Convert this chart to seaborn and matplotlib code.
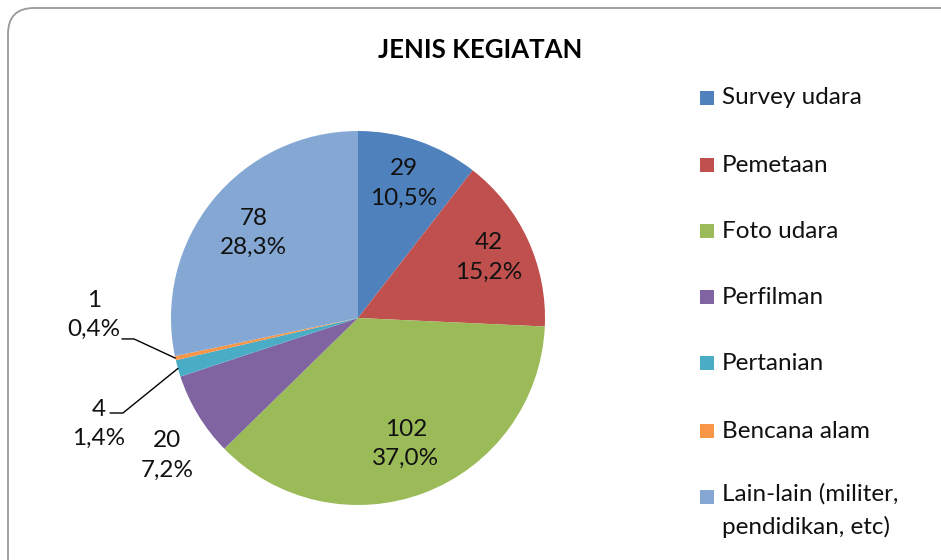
import numpy as np
import matplotlib
matplotlib.use("Agg")
import matplotlib.pyplot as plt
from matplotlib.patches import FancyBboxPatch, Rectangle
import seaborn as sns

# ---- data ----
categories = ["Survey udara", "Pemetaan", "Foto udara", "Perfilman",
              "Pertanian", "Bencana alam", "Lain-lain (militer,\npendidikan, etc)"]
counts = [29, 42, 102, 20, 4, 1, 78]
pct_labels = ["10,5%", "15,2%", "37,0%", "7,2%", "1,4%", "0,4%", "28,3%"]
title = "JENIS KEGIATAN"

colors = ["#4F81BD", "#C0504D", "#9BBB59", "#8064A2", "#4BACC6", "#F79646", "#84A7D3"]

sns.set_theme(style="white")
plt.rcParams["font.family"] = ["Lato", "DejaVu Sans"]

W, H = 941, 560
fig = plt.figure(figsize=(W / 100, H / 100), dpi=100)
fig.patch.set_facecolor("white")

# rounded border in pixel coordinates (extends beyond right/bottom edges)
border = FancyBboxPatch((8, -60), 1100, (H - 8) + 60,
                        boxstyle="round,pad=0,rounding_size=26",
                        transform=None, fill=False,
                        edgecolor="#999999", linewidth=1.3)
fig.patches.append(border)

# pie axes: center (358,318), radius 187 px
cx, cy, r = 358, 318, 187
ax = fig.add_axes([(cx - r) / W, (H - cy - r) / H, 2 * r / W, 2 * r / H])
wedges, _ = ax.pie(counts, colors=colors, startangle=90, counterclock=False,
                   wedgeprops=dict(linewidth=0))
ax.set_xlim(-1, 1)
ax.set_ylim(-1, 1)
ax.set_aspect("equal")
ax.axis("off")

total = sum(counts)
fs = 17.5
txtcol = "#111111"
label_r = [0.76, 0.77, 0.72, None, None, None, 0.72]
outside_pos = {3: (-1.02, -0.735), 4: (-1.385, -0.567), 5: (-1.412, 0.016)}
leader = {4: [(-1.257, -0.508), (-1.326, -0.508)],
          5: [(-1.198, -0.112), (-1.262, -0.112)]}
cum = 0
for i, (c, p) in enumerate(zip(counts, pct_labels)):
    mid = cum + c / 2
    cum += c
    ang = np.deg2rad(90 - 360 * mid / total)
    if label_r[i] is not None:
        x, y = label_r[i] * np.cos(ang), label_r[i] * np.sin(ang)
    else:
        x, y = outside_pos[i]
    ax.text(x, y, f"{c}\n{p}", ha="center", va="center", fontsize=fs,
            color=txtcol, linespacing=1.5, clip_on=False)
    if i in leader:
        pts = [(np.cos(ang), np.sin(ang))] + leader[i]
        xs, ys = zip(*pts)
        ax.plot(xs, ys, color="black", lw=1, clip_on=False)

# title
fig.text(480 / W, 1 - 50 / H, title, ha="center", va="center",
         fontsize=18.5, fontweight="bold", color="black")

# legend (manual)
ly = [98, 165, 231, 297, 363, 431, 497]
for i, (lab, col) in enumerate(zip(categories, colors)):
    y = ly[i]
    fig.patches.append(Rectangle((700 / W, 1 - (y + 7) / H), 14 / W, 14 / H,
                                 transform=fig.transFigure, facecolor=col,
                                 edgecolor="none"))
    if "\n" in lab:
        fig.text(722 / W, 1 - (y - 14) / H, lab, ha="left", va="top",
                 fontsize=fs, color=txtcol, linespacing=1.65)
    else:
        fig.text(722 / W, 1 - y / H, lab, ha="left", va="center",
                 fontsize=fs, color=txtcol)

fig.savefig("out.png", dpi=100, facecolor="white")
